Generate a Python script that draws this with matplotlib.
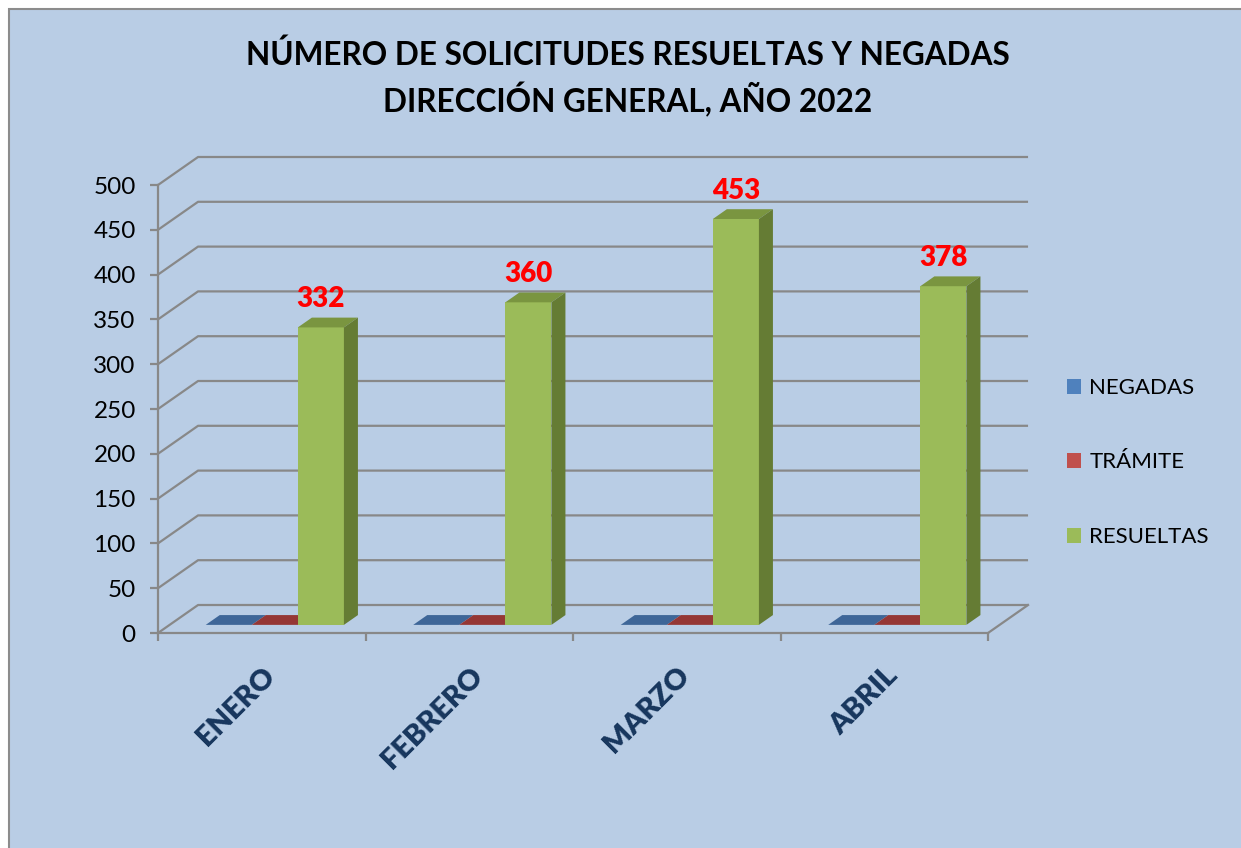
#####################################
# Import Modules
#####################################

import matplotlib
matplotlib.use("Agg")
import matplotlib.pyplot as plt
from matplotlib.patches import Polygon, Rectangle, Patch

#####################################
# Data
#####################################

months = ["ENERO", "FEBRERO", "MARZO", "ABRIL"]
series_names = ["NEGADAS", "TRÁMITE", "RESUELTAS"]
negadas = [0, 0, 0, 0]
tramite = [0, 0, 0, 0]
resueltas = [332, 360, 453, 378]
y_ticks = [0, 50, 100, 150, 200, 250, 300, 350, 400, 450, 500]

title_text = "NÚMERO DE SOLICITUDES RESUELTAS Y NEGADAS\nDIRECCIÓN GENERAL, AÑO 2022"

#####################################
# Styles (Office 2007 palette)
#####################################

plt.rcParams["font.family"] = ["Lato", "DejaVu Sans"]

BG = "#b9cde5"
GRID = "#888888"
front_colors = ["#4f81bd", "#c0504d", "#9bbb59"]
top_colors = ["#3e6698", "#953735", "#7a9540"]
side_colors = ["#2f4f78", "#772c2a", "#657c34"]

# oblique depth of the pseudo-3D floor, in data units
DX = 0.193   # category units
DY = 31.25   # value units
F0, F1 = 0.29, 0.64   # depth fraction where the bars start / end
BAR_W = 0.222

#####################################
# Figure and chart area
#####################################

W, H = 1241, 848
fig = plt.figure(figsize=(W / 100, H / 100), dpi=100)
fig.patch.set_facecolor("white")
fig.patches.append(Rectangle((9 / W, -0.05), 1.1, 1 - 9 / H + 0.05,
                             transform=fig.transFigure, facecolor=BG,
                             edgecolor="#8c8c8c", linewidth=1.5, zorder=-10))

ax = fig.add_axes([158 / W, 215 / H, 830 / W, 448 / H])
ax.set_facecolor("none")
ax.set_zorder(1)
ax.set_xlim(-0.5, len(months) - 0.5)
ax.set_ylim(0, 500)

for side in ["top", "right"]:
    ax.spines[side].set_visible(False)
for side in ["left", "bottom"]:
    ax.spines[side].set_color(GRID)
    ax.spines[side].set_linewidth(1.6)
    ax.spines[side].set_zorder(2)

ax.set_yticks(y_ticks)
ax.tick_params(axis="y", direction="out", length=6, width=1.6, color=GRID,
               labelsize=17.5, pad=10)

# major x ticks on category boundaries, month names on minor ticks
ax.set_xticks([i - 0.5 for i in range(len(months) + 1)])
ax.set_xticklabels([])
ax.tick_params(axis="x", which="major", direction="out", length=6,
               width=1.6, color=GRID)
ax.set_xticks(range(len(months)), minor=True)
ax.set_xticklabels(months, minor=True, rotation=45, ha="right",
                   rotation_mode="anchor")
ax.tick_params(axis="x", which="minor", length=0, pad=21)
for lbl in ax.get_xticklabels(minor=True):
    lbl.set_fontsize(21)
    lbl.set_fontweight("heavy")
    lbl.set_color("#17365d")

#####################################
# Back wall and floor grid
#####################################

x_left, x_right = -0.5, len(months) - 0.5
for v in y_ticks:
    ax.plot([x_left, x_left + DX, x_right + DX], [v, v + DY, v + DY],
            color=GRID, lw=1.6, zorder=1, clip_on=False,
            solid_capstyle="butt")
ax.plot([x_right, x_right + DX], [0, DY], color=GRID, lw=1.6, zorder=1,
        clip_on=False)

#####################################
# Bars (front face, top, side)
#####################################

all_values = [negadas, tramite, resueltas]
sdx = (F1 - F0) * DX
sdy = (F1 - F0) * DY
z = 3
for i in range(len(months)):
    for j, values in enumerate(all_values):
        v = values[i]
        x0 = i - 1.5 * BAR_W + j * BAR_W + F0 * DX + 0.007
        x1 = x0 + BAR_W
        b = F0 * DY
        ax.bar(x0, v, width=BAR_W, bottom=b, align="edge",
               color=front_colors[j], zorder=z, clip_on=False)
        top = [(x0, b + v), (x1, b + v), (x1 + sdx, b + v + sdy),
               (x0 + sdx, b + v + sdy)]
        ax.add_patch(Polygon(top, closed=True, facecolor=top_colors[j],
                             edgecolor="none", zorder=z, clip_on=False))
        if v > 0:
            side = [(x1, b), (x1 + sdx, b + sdy), (x1 + sdx, b + v + sdy),
                    (x1, b + v)]
            ax.add_patch(Polygon(side, closed=True, facecolor=side_colors[j],
                                 edgecolor="none", zorder=z, clip_on=False))
            ax.annotate(str(v), (x0 + BAR_W / 2, b + v + sdy),
                        xytext=(0, 4), textcoords="offset points",
                        ha="center", va="bottom", fontsize=20,
                        fontweight="heavy", color="#ff0000", zorder=10,
                        annotation_clip=False)
        z += 1

#####################################
# Legend and title
#####################################

handles = [Patch(facecolor=c, edgecolor="none") for c in front_colors]
fig.legend(handles, series_names, loc="upper left",
           bbox_to_anchor=(1067 / W, 1 - 378 / H), frameon=False,
           fontsize=16, handlelength=0.65, handleheight=0.65,
           handletextpad=0.35, labelspacing=2.45, borderpad=0,
           borderaxespad=0)

fig.text(628 / W, 1 - 78 / H, title_text, ha="center", va="center",
         fontsize=22.7, fontweight="bold", linespacing=1.4)

fig.savefig("out.png", dpi=100, facecolor=fig.get_facecolor())
